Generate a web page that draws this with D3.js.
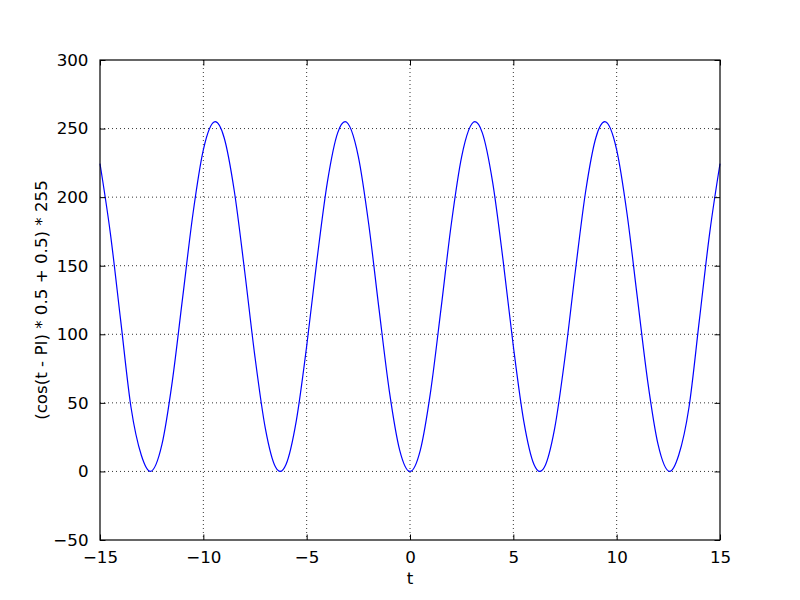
<!DOCTYPE html>
<html>
<head>
<meta charset="utf-8">
<script src="https://cdn.jsdelivr.net/npm/d3@7"></script>
<style>
  body { margin: 0; background: #fff; }
  svg text { font-family: "DejaVu Sans", sans-serif; font-size: 16.7px; fill: #000; }
</style>
</head>
<body>
<svg id="chart" width="800" height="600"></svg>
<script>
// values (t, y)
const tValues = [-15, -14.5, -14, -13.5, -13, -12.566, -12, -11.5, -11, -10.5, -10, -9.425, -9, -8.5, -8, -7.5, -7, -6.5, -6.283, -6, -5.5, -5, -4.5, -4, -3.5, -3.142, -2.5, -2, -1.5, -1, -0.5, 0,
  0.5, 1, 1.5, 2, 2.5, 3.142, 3.5, 4, 4.5, 5, 5.5, 6, 6.283, 6.5, 7, 7.5, 8, 8.5, 9, 9.425, 10, 10.5, 11, 11.5, 12, 12.566, 13, 13.5, 14, 14.5, 15];
const yValues = [224.4, 173.8, 110.1, 46.8, 11.8, 0, 19.9, 65.9, 126.9, 188.1, 234.5, 255, 243.7, 204.3, 146.0, 83.3, 31.4, 3.0, 0, 5.1, 37.1, 91.3, 154.4, 210.8, 246.9, 255, 229.6, 180.6, 118.5, 58.6, 15.6, 0,
  15.6, 58.6, 118.5, 180.6, 229.6, 255, 246.9, 210.8, 154.4, 91.3, 37.1, 5.1, 0, 3.0, 31.4, 83.3, 146.0, 204.3, 243.7, 255, 234.5, 188.1, 126.9, 65.9, 19.9, 0, 11.8, 46.8, 110.1, 173.8, 224.4];
const xTicks = [-15, -10, -5, 0, 5, 10, 15];
const yTicks = [-50, 0, 50, 100, 150, 200, 250, 300];

const margin = {top: 60, right: 80, bottom: 60, left: 100};
const width = 800 - margin.left - margin.right;
const height = 600 - margin.top - margin.bottom;

const svg = d3.select('#chart');
const g = svg.append('g').attr('transform', `translate(${margin.left},${margin.top})`);

const x = d3.scaleLinear().domain([-15, 15]).range([0, width]);
const y = d3.scaleLinear().domain([-50, 300]).range([height, 0]);

/* GRID */
g.append('g').selectAll('line').data(xTicks.slice(1, -1)).enter().append('line')
  .attr('x1', d => x(d)).attr('x2', d => x(d)).attr('y1', 0).attr('y2', height)
  .attr('stroke', '#000').attr('stroke-width', 0.8).attr('stroke-dasharray', '1,3');
g.append('g').selectAll('line').data(yTicks.slice(1, -1)).enter().append('line')
  .attr('y1', d => y(d)).attr('y2', d => y(d)).attr('x1', 0).attr('x2', width)
  .attr('stroke', '#000').attr('stroke-width', 0.8).attr('stroke-dasharray', '1,3');

/* CURVE */
const pts = tValues.map((t, i) => [t, yValues[i]]);
g.append('path').datum(pts)
  .attr('fill', 'none').attr('stroke', '#0000ff').attr('stroke-width', 1.2)
  .attr('d', d3.line().x(d => x(d[0])).y(d => y(d[1])).curve(d3.curveMonotoneX));

/* AXES - ticks inward on all sides */
const tick = 5.5;
const xb = d3.axisBottom(x).tickValues(xTicks).tickSize(-tick).tickPadding(tick + 6).tickFormat(d => String(d).replace('-', '\u2212'));
const xt = d3.axisTop(x).tickValues(xTicks).tickSize(-tick).tickFormat('');
const yl = d3.axisLeft(y).tickValues(yTicks).tickSize(-tick).tickPadding(tick + 6).tickFormat(d => String(d).replace('-', '\u2212'));
const yr = d3.axisRight(y).tickValues(yTicks).tickSize(-tick).tickFormat('');

g.append('g').attr('transform', `translate(0,${height})`).call(xb);
g.append('g').call(xt);
g.append('g').call(yl);
g.append('g').attr('transform', `translate(${width},0)`).call(yr);

g.selectAll('.domain').remove();
g.selectAll('.tick line').attr('stroke', '#000').attr('stroke-width', 1);
g.selectAll('.tick text').style('font-size', '16.7px').attr('fill', '#000');

g.append('rect').attr('width', width).attr('height', height)
  .attr('fill', 'none').attr('stroke', '#000').attr('stroke-width', 1.2);

/* LABELS */
svg.append('text').attr('x', margin.left + width / 2).attr('y', 584)
  .attr('text-anchor', 'middle').text('t');
svg.append('text').attr('transform', `translate(47,${margin.top + height / 2}) rotate(-90)`)
  .attr('text-anchor', 'middle').text('(cos(t - PI) * 0.5 + 0.5) * 255');
</script>
</body>
</html>
